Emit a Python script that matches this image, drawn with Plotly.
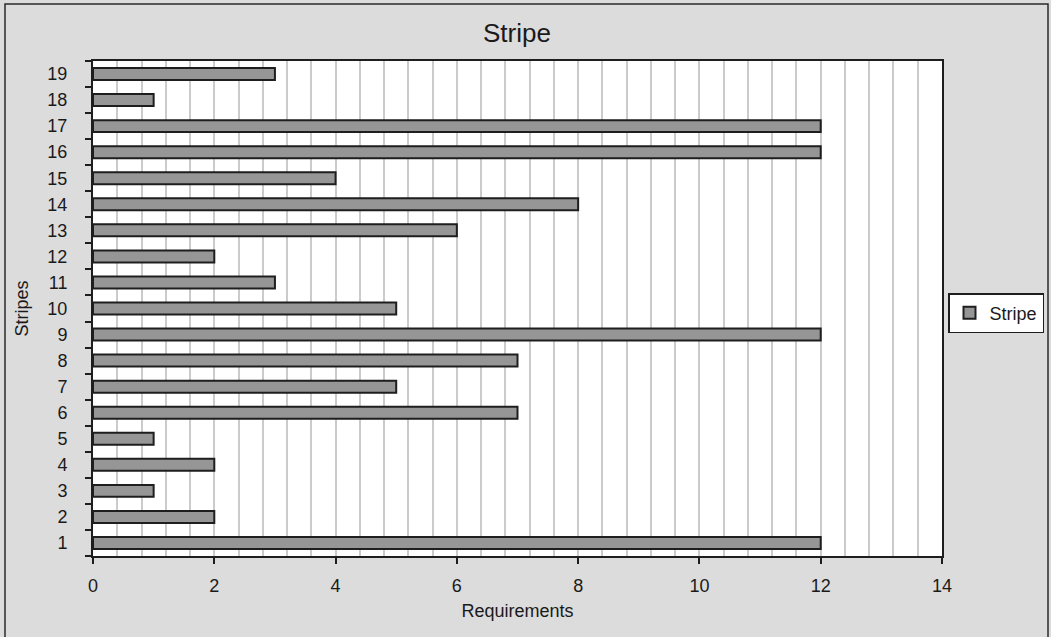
import plotly.graph_objects as go

categories = [str(i) for i in range(1, 20)]
requirements = [12, 2, 1, 2, 1, 7, 5, 7, 12, 5, 3, 2, 6, 8, 4, 12, 12, 1, 3]
series_name = "Stripe"

W, H = 1051, 637
L, R, T, B = 93, 109, 61, 81
pw, ph = W - L - R, H - T - B

def px_x(px):
    return (px - L) / pw

def px_y(py):
    return (H - B - py) / ph

fig = go.Figure()
fig.add_trace(go.Bar(
    x=requirements, y=categories, orientation="h", name=series_name,
    marker=dict(color="#969696", line=dict(color="#1e1e1e", width=2)),
    showlegend=True,
))

font = "Liberation Sans, Arial, sans-serif"
fig.update_layout(
    width=W, height=H,
    margin=dict(l=L, r=R, t=T, b=B, autoexpand=False),
    paper_bgcolor="#dcdcdc", plot_bgcolor="#ffffff",
    font=dict(family=font, size=18, color="#1a1a1a"),
    title=dict(text="Stripe", x=517 / W, xanchor="center", y=1 - 33 / H, yanchor="middle",
               font=dict(size=26, family=font, color="#1a1a1a")),
    bargap=0.54,
    showlegend=True,
    legend=dict(x=px_x(996), xanchor="center", y=px_y(313), yanchor="middle",
                bgcolor="#ffffff", bordercolor="#1e1e1e", borderwidth=1.5,
                font=dict(size=18, family=font, color="#1a1a1a"),
                itemwidth=30, tracegroupgap=0),
    shapes=[dict(type="rect", xref="paper", yref="paper",
                 x0=px_x(5), x1=px_x(1048), y0=px_y(650), y1=px_y(4),
                 line=dict(color="#2a2a2a", width=1.5), fillcolor="rgba(0,0,0,0)", layer="below")],
)
fig.update_xaxes(
    range=[0, 14], dtick=2, tick0=0,
    showgrid=True, gridcolor="#cbcbcb", gridwidth=2,
    minor=dict(dtick=0.4, tick0=0, showgrid=True, gridcolor="#cbcbcb", gridwidth=2, ticks=""),
    ticks="outside", ticklen=6, tickwidth=2, tickcolor="#1e1e1e",
    showline=True, linecolor="#1e1e1e", linewidth=2, mirror=True,
    zeroline=False, ticklabelstandoff=6,
    title=dict(text="Requirements", font=dict(size=18, family=font), standoff=10),
    tickfont=dict(size=18, family=font),
)
fig.update_yaxes(
    type="category", categoryorder="array", categoryarray=categories,
    range=[-0.5, 18.5],
    tickson="boundaries", ticks="outside", ticklen=6, tickwidth=2, tickcolor="#1e1e1e",
    showgrid=False,
    showline=True, linecolor="#1e1e1e", linewidth=2, mirror=True,
    ticklabelstandoff=20,
    title=dict(text="Stripes", font=dict(size=18, family=font), standoff=14),
    tickfont=dict(size=18, family=font),
)
fig.write_html("out.html", config={"displayModeBar": False},
               post_script="document.body.style.margin='0';document.body.style.background='#dcdcdc';document.body.style.overflow='hidden';")
